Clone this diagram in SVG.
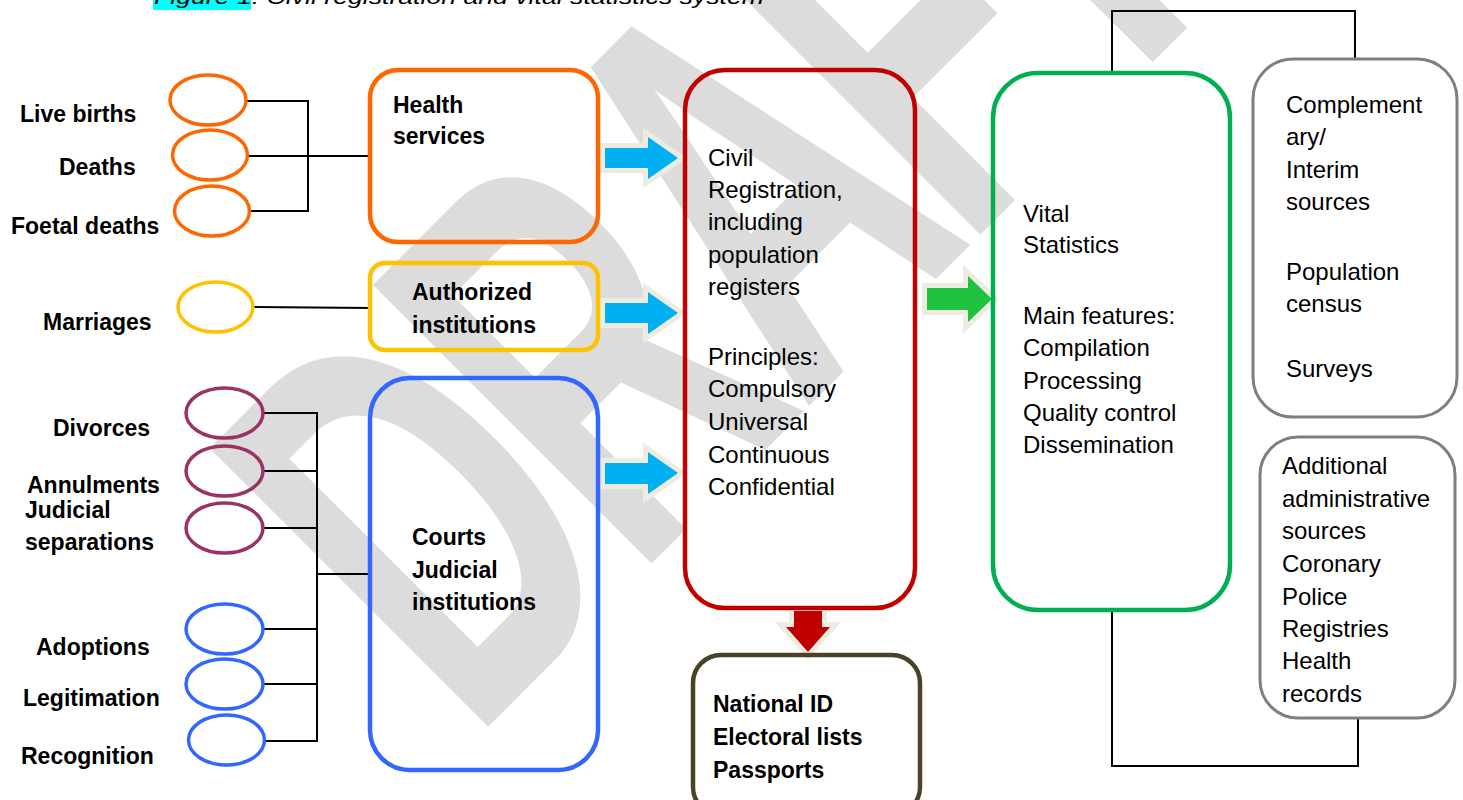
<svg xmlns="http://www.w3.org/2000/svg" width="1463" height="800" viewBox="0 0 1463 800">
<style>
.lbl{font-family:"Liberation Sans",Arial,sans-serif;font-weight:bold;font-size:23px;fill:#000}
.txt{font-family:"Liberation Sans",Arial,sans-serif;font-size:24px;fill:#000}
.box{fill:none;stroke-width:4.5}
.ell{fill:none;stroke-width:3.5}
.ln{fill:none;stroke:#000;stroke-width:2}
.arr{stroke:#eeece1;stroke-width:10;paint-order:stroke;stroke-linejoin:miter}
</style>
<rect width="1463" height="800" fill="#fff"/>
<g id="watermark">
<text x="-173.8 -105.9 -36.2 30.9 85.9" y="0" transform="translate(890,325) rotate(-45) scale(3.4,5.726)" font-family="Liberation Sans,Arial,sans-serif" font-weight="bold" font-size="100" fill="#dcdcdc">DRAFT</text>
</g>
<g id="caption">
<rect x="153" y="0" width="98" height="10" fill="#00ffff"/>
<text x="154" y="4" font-family="Liberation Sans,Arial,sans-serif" font-style="italic" font-size="20" textLength="610" lengthAdjust="spacingAndGlyphs">Figure 1: Civil registration and vital statistics system</text>
</g>
<g id="connectors">
<polyline class="ln" points="246,101 308,101 308,211 250,211"/>
<line class="ln" x1="247" y1="156" x2="372" y2="156"/>
<line class="ln" x1="253" y1="307" x2="372" y2="308"/>
<polyline class="ln" points="263,413 317,413 317,741 265,741"/>
<line class="ln" x1="263" y1="471" x2="317" y2="471"/>
<line class="ln" x1="263" y1="528" x2="317" y2="528"/>
<line class="ln" x1="263" y1="629" x2="317" y2="629"/>
<line class="ln" x1="263" y1="684" x2="317" y2="684"/>
<line class="ln" x1="317" y1="574" x2="372" y2="574" stroke-width="3"/>
<polyline class="ln" points="1112,73 1112,11 1355,11 1355,59"/>
<polyline class="ln" points="1112,610 1112,766 1358,766 1358,718"/>
<polygon class="arr" fill="#00b0f0" points="605,148 648,148 648,137 678,158 648,179 648,168 605,168"/>
<polygon class="arr" fill="#00b0f0" points="605,303 648,303 648,292 678,313 648,334 648,323 605,323"/>
<polygon class="arr" fill="#00b0f0" points="605,463 648,463 648,452 678,473 648,494 648,484 605,484"/>
<polygon class="arr" fill="#1ec23e" points="927,288 968,288 968,276 992,299 968,322 968,310 927,310"/>
<polygon class="arr" fill="#c00000" points="794,611 822,611 822,627 830,627 808,652 786,627 794,627"/>
</g>
<g id="live-births"><ellipse class="ell" cx="208" cy="100" rx="38" ry="25" stroke="#ff6600"/><text class="lbl" x="20" y="122">Live births</text></g>
<g id="deaths"><ellipse class="ell" cx="210" cy="155" rx="37.5" ry="25" stroke="#ff6600"/><text class="lbl" x="59" y="175">Deaths</text></g>
<g id="foetal-deaths"><ellipse class="ell" cx="212" cy="211" rx="37.5" ry="25" stroke="#ff6600"/><text class="lbl" x="11" y="234">Foetal deaths</text></g>
<g id="marriages"><ellipse class="ell" cx="215.5" cy="307" rx="37.5" ry="25" stroke="#ffc000"/><text class="lbl" x="43" y="330">Marriages</text></g>
<g id="divorces"><ellipse class="ell" cx="224.5" cy="413" rx="38.5" ry="25" stroke="#993366"/><text class="lbl" x="53" y="436">Divorces</text></g>
<g id="annulments"><ellipse class="ell" cx="224.5" cy="471" rx="38.5" ry="25" stroke="#993366"/><text class="lbl" x="27" y="493">Annulments</text></g>
<g id="judicial-separations"><ellipse class="ell" cx="224.5" cy="528" rx="38.5" ry="25" stroke="#993366"/><text class="lbl" x="25" y="518">Judicial</text><text class="lbl" x="25" y="550">separations</text></g>
<g id="adoptions"><ellipse class="ell" cx="224.5" cy="629" rx="38.5" ry="25" stroke="#3366ff"/><text class="lbl" x="36" y="655">Adoptions</text></g>
<g id="legitimation"><ellipse class="ell" cx="224.5" cy="684" rx="38.5" ry="25" stroke="#3366ff"/><text class="lbl" x="23" y="706">Legitimation</text></g>
<g id="recognition"><ellipse class="ell" cx="226.5" cy="740" rx="38" ry="25" stroke="#3366ff"/><text class="lbl" x="21" y="764">Recognition</text></g>
<g id="health-services"><rect class="box" x="370" y="70" width="228" height="172" rx="28" stroke="#ff6600"/><text class="lbl" x="393" y="113">Health</text><text class="lbl" x="393" y="144">services</text></g>
<g id="authorized-institutions"><rect class="box" x="370" y="263" width="228" height="87" rx="15" stroke="#ffc000"/><text class="lbl" x="412" y="300">Authorized</text><text class="lbl" x="412" y="333">institutions</text></g>
<g id="courts"><rect class="box" x="370" y="378" width="228" height="392" rx="40" stroke="#3366ff"/><text class="lbl" x="412" y="545">Courts</text><text class="lbl" x="412" y="578">Judicial</text><text class="lbl" x="412" y="610">institutions</text></g>
<g id="civil-registration"><rect class="box" x="685" y="70" width="230" height="538" rx="40" stroke="#c00000"/>
<text class="txt" x="708" y="166">Civil</text><text class="txt" x="708" y="198">Registration,</text><text class="txt" x="708" y="230">including</text><text class="txt" x="708" y="263">population</text><text class="txt" x="708" y="295">registers</text>
<text class="txt" x="708" y="365">Principles:</text><text class="txt" x="708" y="397">Compulsory</text><text class="txt" x="708" y="430">Universal</text><text class="txt" x="708" y="463">Continuous</text><text class="txt" x="708" y="495">Confidential</text></g>
<g id="national-id"><rect class="box" x="693" y="655" width="227" height="160" rx="28" stroke="#494429"/><text class="lbl" x="713" y="712">National ID</text><text class="lbl" x="713" y="745">Electoral lists</text><text class="lbl" x="713" y="778">Passports</text></g>
<g id="vital-statistics"><rect class="box" x="993" y="73" width="237" height="537" rx="45" stroke="#00b050"/>
<text class="txt" x="1023" y="222">Vital</text><text class="txt" x="1023" y="253">Statistics</text>
<text class="txt" x="1023" y="324">Main features:</text><text class="txt" x="1023" y="356">Compilation</text><text class="txt" x="1023" y="389">Processing</text><text class="txt" x="1023" y="421">Quality control</text><text class="txt" x="1023" y="453">Dissemination</text></g>
<g id="complementary"><rect x="1253" y="59" width="204" height="358" rx="40" fill="none" stroke="#7f7f7f" stroke-width="3"/>
<text class="txt" x="1286" y="113">Complement</text><text class="txt" x="1286" y="145">ary/</text><text class="txt" x="1286" y="178">Interim</text><text class="txt" x="1286" y="210">sources</text>
<text class="txt" x="1286" y="280">Population</text><text class="txt" x="1286" y="312">census</text><text class="txt" x="1286" y="377">Surveys</text></g>
<g id="administrative"><rect x="1260" y="437" width="195" height="281" rx="38" fill="none" stroke="#7f7f7f" stroke-width="3"/>
<text class="txt" x="1282" y="474">Additional</text><text class="txt" x="1282" y="507">administrative</text><text class="txt" x="1282" y="539">sources</text><text class="txt" x="1282" y="572">Coronary</text><text class="txt" x="1282" y="605">Police</text><text class="txt" x="1282" y="637">Registries</text><text class="txt" x="1282" y="669">Health</text><text class="txt" x="1282" y="702">records</text></g>
</svg>
